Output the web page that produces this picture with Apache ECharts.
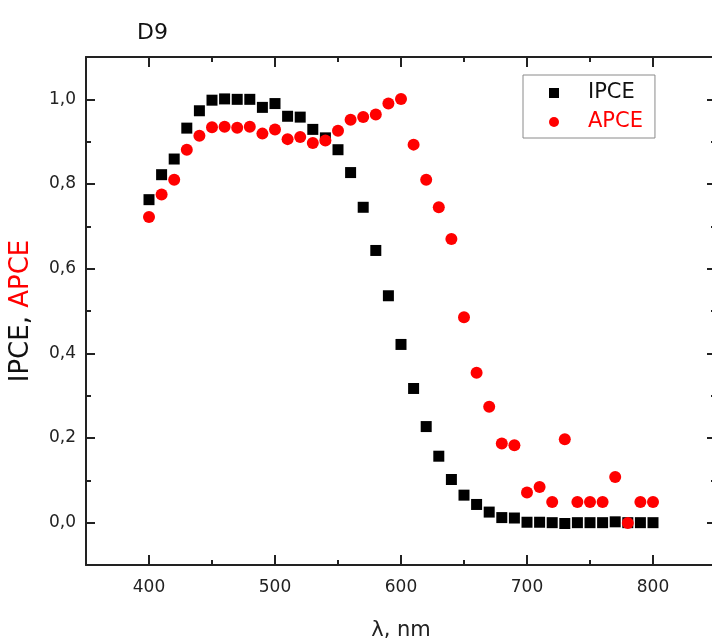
<!DOCTYPE html>
<html>
<head>
<meta charset="utf-8">
<script src="https://cdn.jsdelivr.net/npm/echarts@6/dist/echarts.min.js"></script>
<style>
html,body{margin:0;padding:0;background:#fff;}
#chart{width:712px;height:644px;}
</style>
</head>
<body>
<div id="chart"></div>
<script>
const wavelengths = [400,410,420,430,440,450,460,470,480,490,500,510,520,530,540,550,560,570,580,590,600,610,620,630,640,650,660,670,680,690,700,710,720,730,740,750,760,770,780,790,800];
const ipce = [0.763,0.822,0.859,0.932,0.973,0.998,1.001,1.000,1.000,0.981,0.990,0.960,0.958,0.929,0.909,0.881,0.827,0.745,0.643,0.536,0.421,0.317,0.227,0.157,0.102,0.065,0.043,0.025,0.012,0.011,0.001,0.001,0.000,-0.002,0.000,0.000,0.000,0.002,0.000,0.000,0.000];
const apce = [0.722,0.775,0.810,0.881,0.914,0.934,0.935,0.933,0.935,0.919,0.929,0.906,0.911,0.897,0.903,0.926,0.952,0.958,0.964,0.990,1.001,0.893,0.810,0.745,0.670,0.485,0.354,0.274,0.187,0.183,0.071,0.084,0.049,0.197,0.049,0.049,0.049,0.108,-0.001,0.049,0.049];
const xMajorTicks = [400,500,600,700,800];
const xMinorTicks = [450,550,650,750];
const yMajorTicks = [0,0.2,0.4,0.6,0.8,1.0];
const yMinorTicks = [0.1,0.3,0.5,0.7,0.9];
const seriesNames = ['IPCE','APCE'];
const titleText = 'D9';

const FONT = 'DejaVu Sans';
const AX = '#222';
const chart = echarts.init(document.getElementById('chart'), null, {renderer:'canvas'});

function xAxisDef(pos, ticks, len, showLine, showLabel){
  return {
    type:'value', position:pos, min:350, max:850,
    axisLine:{show:showLine, onZero:false, lineStyle:{color:AX, width:2}},
    axisTick:{show:true, inside:true, length:len, customValues:ticks, lineStyle:{color:AX, width:2}},
    axisLabel:{show:showLabel, customValues:ticks, margin:14, color:'#222', fontSize:17, fontFamily:FONT},
    splitLine:{show:false}
  };
}
function yAxisDef(pos, ticks, len, showLine, showLabel){
  return {
    type:'value', position:pos, min:-0.1, max:1.1,
    axisLine:{show:showLine, onZero:false, lineStyle:{color:AX, width:2}},
    axisTick:{show:true, inside:true, length:len, customValues:ticks, lineStyle:{color:AX, width:2}},
    axisLabel:{show:showLabel, customValues:ticks, margin:10, color:'#222', fontSize:17, fontFamily:FONT,
      formatter:v=>v.toFixed(1).replace('.',',')},
    splitLine:{show:false}
  };
}

const xa0 = xAxisDef('bottom', xMajorTicks, 10, true, true);
xa0.name = 'λ, nm';
xa0.nameLocation = 'middle';
xa0.nameGap = 55;
xa0.nameTextStyle = {color:'#222', fontSize:21, fontFamily:FONT};

const ya0 = yAxisDef('left', yMajorTicks, 9, true, true);
ya0.name = '{a|IPCE, }{b|APCE}';
ya0.nameLocation = 'middle';
ya0.nameGap = 52;
ya0.nameTextStyle = {fontSize:26, fontFamily:FONT, rich:{
  a:{color:'#111', fontSize:26, fontFamily:FONT},
  b:{color:'#ff0000', fontSize:26, fontFamily:FONT}
}};

const option = {
  animation:false,
  backgroundColor:'#fff',
  title:{text:titleText, left:132, top:17, textStyle:{color:'#111', fontSize:22, fontWeight:'normal', fontFamily:FONT}},
  grid:{left:86, top:57, width:630, height:508, containLabel:false, outerBoundsMode:'none'},
  legend:{
    orient:'vertical', left:523, top:75,
    padding:[7,12,5,26], itemGap:7, itemWidth:10, itemHeight:10,
    borderColor:'#8a8a8a', borderWidth:1, backgroundColor:'#fff',
    data:[
      {name:seriesNames[0], icon:'rect', textStyle:{color:'#111'}},
      {name:seriesNames[1], icon:'circle', textStyle:{color:'#ff0000'}}
    ],
    textStyle:{fontSize:21, fontFamily:FONT, lineHeight:22, padding:[0,0,0,24]}
  },
  xAxis:[
    xa0,
    xAxisDef('bottom', xMinorTicks, 5, false, false),
    xAxisDef('top', xMajorTicks, 10, true, false),
    xAxisDef('top', xMinorTicks, 5, false, false)
  ],
  yAxis:[
    ya0,
    yAxisDef('left', yMinorTicks, 5, false, false),
    yAxisDef('right', yMajorTicks, 9, true, false),
    yAxisDef('right', yMinorTicks, 5, false, false)
  ],
  series:[
    {name:seriesNames[0], type:'scatter', symbol:'rect', symbolSize:11,
      itemStyle:{color:'#000', opacity:1}, data:wavelengths.map((w,i)=>[w, ipce[i]])},
    {name:seriesNames[1], type:'scatter', symbol:'circle', symbolSize:12,
      itemStyle:{color:'#ff0000', opacity:1}, data:wavelengths.map((w,i)=>[w, apce[i]])}
  ]
};
chart.setOption(option);
</script>
</body>
</html>
